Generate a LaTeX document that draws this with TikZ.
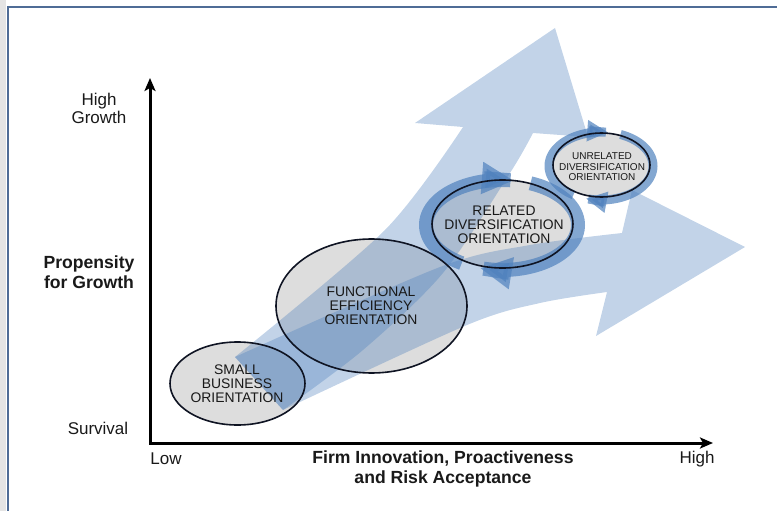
\documentclass[tikz,border=0pt]{standalone}
\usepackage{fontspec}
\setmainfont{Liberation Sans}
\usetikzlibrary{shapes.geometric,arrows.meta}
\definecolor{arrowblue}{RGB}{79,129,189}
\definecolor{ellgrey}{RGB}{221,221,221}
\definecolor{framecol}{RGB}{79,108,150}
\definecolor{stripgrey}{RGB}{228,228,228}
\definecolor{txt}{RGB}{25,25,25}
\definecolor{ellline}{RGB}{15,20,35}
\begin{document}
\begin{tikzpicture}[x=1pt,y=-1pt,
  ellfill/.style={ellipse, fill=ellgrey, draw=none, inner sep=0pt},
  ellout/.style={ellipse, draw=ellline, line width=1.6pt, inner sep=0pt},
  elltext/.style={font=\fontsize{13.9}{14}\selectfont, text=txt, align=center, inner sep=0pt},
  elltextsmall/.style={font=\fontsize{10}{10.5}\selectfont, text=txt, align=center, inner sep=0pt},
  bigarrow/.style={fill=arrowblue, fill opacity=0.35},
  ringbig/.style={draw=arrowblue, opacity=0.7, line width=14pt, -{Triangle[length=32pt,width=30pt]}},
  ringsmall/.style={draw=arrowblue, opacity=0.7, line width=9pt, -{Triangle[length=21pt,width=20pt]}},
  axisline/.style={line width=3pt, line join=miter, {Stealth[length=13pt,width=11pt,inset=3pt]}-{Stealth[length=13pt,width=11pt,inset=3pt]}},
  axlabel/.style={font=\fontsize{17}{18}\selectfont, text=txt, align=center, inner sep=0pt},
  axlabelbold/.style={font=\fontsize{17.6}{19.5}\selectfont\bfseries, text=txt, align=center, inner sep=0pt}
]
\useasboundingbox (0,0) rectangle (777,511);
% frame
\fill[stripgrey] (0,0) rectangle (6,511);
\draw[framecol, line width=2pt] (7.5,511) -- (7.5,7.5) -- (777,7.5);

% ellipse fills
\node[ellfill, minimum width=135pt, minimum height=83pt] (sbF) at (237.5,383.5) {};
\node[ellfill, minimum width=191pt, minimum height=134pt] (feF) at (371.5,306) {};
\node[ellfill, minimum width=141pt, minimum height=88pt] (rdF) at (502.5,224) {};
\node[ellfill, minimum width=97pt, minimum height=64pt] (udF) at (601.5,165) {};

% big arrows
\fill[bigarrow] (235,357) -- plot[smooth] coordinates {(235,357) (385,230) (463,127)}
  -- (415,123) -- (555,28) -- (588,137) -- (533,133)
  -- plot[smooth] coordinates {(533,133) (510,173) (443,273) (363,350) (283,410)} -- cycle;
\fill[bigarrow] (235,357) -- plot[smooth] coordinates {(235,357) (440,267) (530,245) (622,233)}
  -- (632,190) -- (745,247) -- (596,336) -- (607,292)
  -- plot[smooth] coordinates {(607,292) (540,303) (467,325) (283,410)} -- cycle;

% circular arrows
\draw[ringbig] plot[domain=122:279, samples=60, variable=\t] ({502+76*cos(\t)},{225+45*sin(\t)});
\draw[ringbig] plot[domain=292:467, samples=60, variable=\t] ({502+76*cos(\t)},{225+45*sin(\t)});
\draw[ringsmall] plot[domain=122:278, samples=60, variable=\t] ({601+52*cos(\t)},{166+34*sin(\t)});
\draw[ringsmall] plot[domain=292:467, samples=60, variable=\t] ({601+52*cos(\t)},{166+34*sin(\t)});

% ellipse outlines
\node[ellout, minimum width=135pt, minimum height=83pt] (sb) at (sbF.center) {};
\node[ellout, minimum width=191pt, minimum height=134pt] (fe) at (feF.center) {};
\node[ellout, minimum width=141pt, minimum height=88pt] (rd) at (rdF.center) {};
\node[ellout, minimum width=97pt, minimum height=64pt] (ud) at (udF.center) {};

% ellipse texts
\node[elltext] (sbT) at (237,384) {SMALL\\BUSINESS\\ORIENTATION};
\node[elltext] (feT) at (371,306) {FUNCTIONAL\\EFFICIENCY\\ORIENTATION};
\node[elltext] (rdT) at (504,225) {RELATED\\DIVERSIFICATION\\ORIENTATION};
\node[elltextsmall] (udT) at (602,167) {UNRELATED\\DIVERSIFICATION\\ORIENTATION};

% axes
\coordinate (ytop) at (150,78);
\coordinate (xend) at (713,443);
\draw[axisline] (ytop) |- (xend);

% axis labels
\node[axlabel] (hg) at (99,108) {High\\Growth};
\node[axlabelbold] (pg) at (89,272) {Propensity\\for Growth};
\node[axlabel] (sv) at (98,428) {Survival};
\node[axlabel] (lw) at (166,459) {Low};
\node[axlabel] (hi) at (697,459) {High};
\node[axlabelbold] (xt) at (443,469) {Firm Innovation, Proactiveness\\and Risk Acceptance};
\end{tikzpicture}
\end{document}
